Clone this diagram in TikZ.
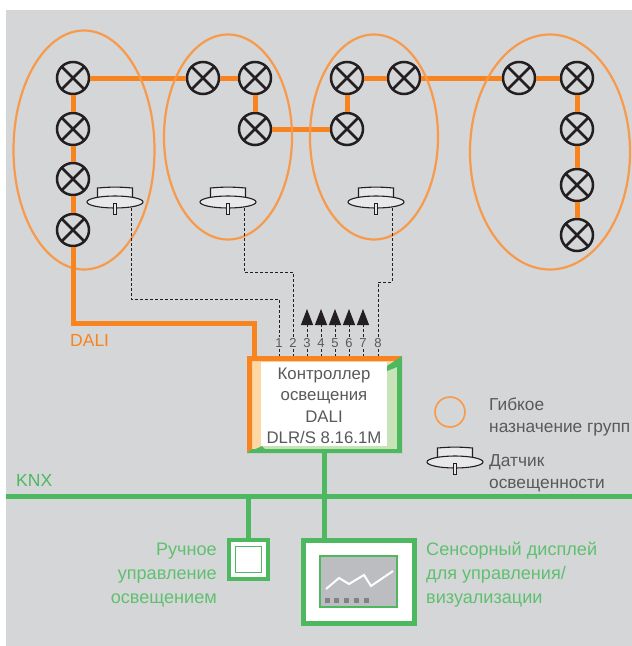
\documentclass[tikz,border=0pt]{standalone}
\usepackage{fontspec}
\setmainfont{Liberation Sans}
\usetikzlibrary{arrows.meta}
\usetikzlibrary{positioning}
\usetikzlibrary{shapes.geometric}
\definecolor{mbg}{HTML}{D5D6D8}
\definecolor{morange}{HTML}{F7841E}
\definecolor{mring}{HTML}{F79A4B}
\definecolor{mgreen}{HTML}{4DB85F}
\definecolor{mtext}{HTML}{58595B}
\definecolor{mlabel}{HTML}{5FC070}
\definecolor{mink}{HTML}{231F20}
\definecolor{mpaleo}{HTML}{FDD8A5}
\definecolor{mpaleg}{HTML}{C9E3B9}
\definecolor{mscreen}{HTML}{BCBDC0}
\definecolor{msquare}{HTML}{808285}
\tikzset{lamp/.style = {circle, draw=mink, line width=2.5pt, minimum size=32pt, inner sep=0pt,
                        path picture={\draw [mink, line width=2.5pt]
                          (path picture bounding box.north west) -- (path picture bounding box.south east)
                          (path picture bounding box.north east) -- (path picture bounding box.south west);}},
         group/.style = {ellipse, draw=mring, line width=2.2pt, inner sep=0pt},
         dali/.style = {morange, line width=5pt},
         knx/.style = {mgreen, line width=5pt},
         sense/.style = {mink, dash pattern=on 3pt off 2pt, line width=1pt},
         num/.style = {text=mtext, font=\fontsize{13}{14}\selectfont, inner sep=1.5pt},
         gray text/.style = {text=mtext, font=\fontsize{17.3}{22}\selectfont, inner sep=0pt},
         green text/.style = {text=mlabel, font=\fontsize{18.1}{24}\selectfont, inner sep=0pt},
         sensor/.pic = {
           \draw [mink, fill=white!45!mbg, line width=1.1pt] (-17.5, 0) -- (-17.5, -14) to [bend left=5] (17.5, -14) -- (17.5, 0);
           \draw [mink, fill=white!45!mbg, line width=1.1pt] (0, 0) ellipse (28 and 6);
           \draw [mink, fill=white!45!mbg, line width=0.8pt] (-1.7, 1) rectangle (1.7, 12);
           \coordinate (-tap) at (16, 6);
         }}

\begin{document}
\begin{tikzpicture}[x=1pt, y=-1pt]
    \useasboundingbox (0, 0) rectangle (632, 646);
    \fill [mbg] (6, 10) rectangle (632, 646);

    % lamps
    \foreach \name/\x/\y in {a1/73/78, a2/73/129, a3/73/179, a4/73/230,
                             b1/203/78, b2/255/78, b3/255/129,
                             c1/347/78, c2/404/78, c3/347/129,
                             d1/519/78, d2/577/78, d3/577/129, d4/577/185, d5/577/235}
      \node (\name) [lamp] at (\x, \y) {};

    \foreach \from/\to in {a1/a2, a2/a3, a3/a4, a1/b1, b1/b2, b2/b3, b3/c3,
                           c3/c1, c1/c2, c2/d1, d1/d2, d2/d3, d3/d4, d4/d5}
      \draw [dali] (\from) -- (\to);

    % groups
    \node (group1) [group, minimum width=141pt, minimum height=239pt] at (84, 150) {};
    \node (group2) [group, minimum width=128pt, minimum height=205pt] at (228, 137) {};
    \node (group3) [group, minimum width=128pt, minimum height=205pt] at (374, 137) {};
    \node (group4) [group, minimum width=160pt, minimum height=235pt] at (550, 152) {};

    \pic (s1) at (115, 202) {sensor};
    \pic (s2) at (228, 202) {sensor};
    \pic (s3) at (376, 202) {sensor};

    % controller
    \node (ctrlbox) [minimum width=155pt, minimum height=97pt, inner sep=0pt] at (324.5, 404.5) {};
    \fill [mpaleg] (250, 358) rectangle (400, 451);
    \fill [mpaleo] (250, 358) rectangle (261, 451);
    \fill [mpaleo] (250, 358) rectangle (400, 364);
    \fill [morange] (247, 356) -- (402, 356) -- (397, 361) -- (252, 361) -- (252, 449) -- (247, 453) -- cycle;
    \fill [mgreen] (402, 356) -- (402, 453) -- (247, 453) -- (252, 449) -- (397, 449) -- (397, 361) -- cycle;
    \fill [mgreen] (402, 356) -- (397, 367) -- (387, 371) -- (387, 366) -- cycle;
    \fill [mgreen] (247, 453) -- (262, 446) -- (266, 450) -- cycle;
    \fill [white] (261, 362) rectangle (387, 446);
    \node (ctrl) [text=mtext, inner sep=0pt, font=\fontsize{16.8}{21.5}\selectfont, align=center] at (324, 406)
      {Контроллер\\освещения\\DALI\\DLR/S 8.16.1M};

    % inputs
    \foreach \n/\x in {1/279, 2/293, 3/307, 4/321, 5/335, 6/349, 7/363, 8/378} {
      \node (num\n) [num] at (\x, 343) {\n};
      \draw [sense] (num\n) -- (num\n |- ctrlbox.north);
    }
    \foreach \n in {3, 4, 5, 6, 7} {
      \coordinate (tip\n) at (num\n |- 0, 309);
      \draw [sense, -{Triangle[width=12pt, length=16pt]}] (num\n) -- (tip\n);
    }

    \coordinate (bend1) at (279, 299);
    \coordinate (bend2) at (293, 272);
    \coordinate (bend3) at (378, 282);
    \draw [sense] (s1-tap) |- (bend1) -- (num1);
    \draw [sense] (s2-tap) |- (bend2) -- (num2);
    \draw [sense] (s3-tap) |- (bend3) -- (num8);

    % DALI line
    \coordinate (dalibend) at (254, 323);
    \draw [dali] (a4) |- (dalibend) -- (dalibend |- ctrlbox.north);
    \node (dalilabel) [anchor=west, text=morange, font=\fontsize{17.5}{20}\selectfont, inner sep=0pt] at (70, 340) {DALI};

    % KNX line
    \coordinate (knxleft) at (6, 496);
    \coordinate (knxright) at (632, 496);
    \draw [knx] (knxleft) -- (knxright);
    \node (knxlabel) [anchor=west, text=mgreen, font=\fontsize{17.5}{20}\selectfont, inner sep=0pt] at (16, 480) {KNX};

    % devices
    \node (switch) [draw=mgreen, fill=white, line width=4.5pt, minimum size=39pt, inner sep=0pt] at (248.5, 559.5) {};
    \node (switchkey) [draw=mgreen, line width=1.3pt, minimum size=26pt, inner sep=0pt] at (switch.center) {};
    \node (panel) [draw=mgreen, fill=white, line width=5pt, minimum width=111pt, minimum height=83pt, inner sep=0pt] at (358.5, 581.5) {};
    \node (screen) [draw=mgreen, fill=mscreen, line width=1.3pt, minimum width=77pt, minimum height=51pt, inner sep=0pt] at (358.5, 581.5) {};
    \draw [white, line width=2pt] (326, 589) -- (339, 578) -- (349, 584) -- (364, 575) -- (371, 586) -- (393, 571);
    \foreach \x in {325, 334, 344, 354, 364}
      \fill [msquare] (\x, 598) rectangle ++(5, 5);

    \draw [knx] (ctrlbox.south) -- (ctrlbox.south |- panel.north);
    \draw [knx] (knxleft -| switch) -- (switch.north);

    \node (switchlabel) [green text, anchor=east, align=right] at (217, 575) {Ручное\\управление\\освещением};
    \node (panellabel) [green text, anchor=west, align=left] at (426, 575) {Сенсорный дисплей\\для управления/\\визуализации};

    % legend
    \node (legendring) [circle, draw=mring, line width=1.6pt, minimum size=30pt, inner sep=0pt] at (450, 412) {};
    \pic (legendsensor) at (455, 462) {sensor};
    \node (legendgroup) [gray text, anchor=west, align=left] at (489, 417) {Гибкое\\назначение групп};
    \node (legendlux) [gray text, anchor=west, align=left] at (489, 473) {Датчик\\освещенности};
  \end{tikzpicture}
\end{document}
